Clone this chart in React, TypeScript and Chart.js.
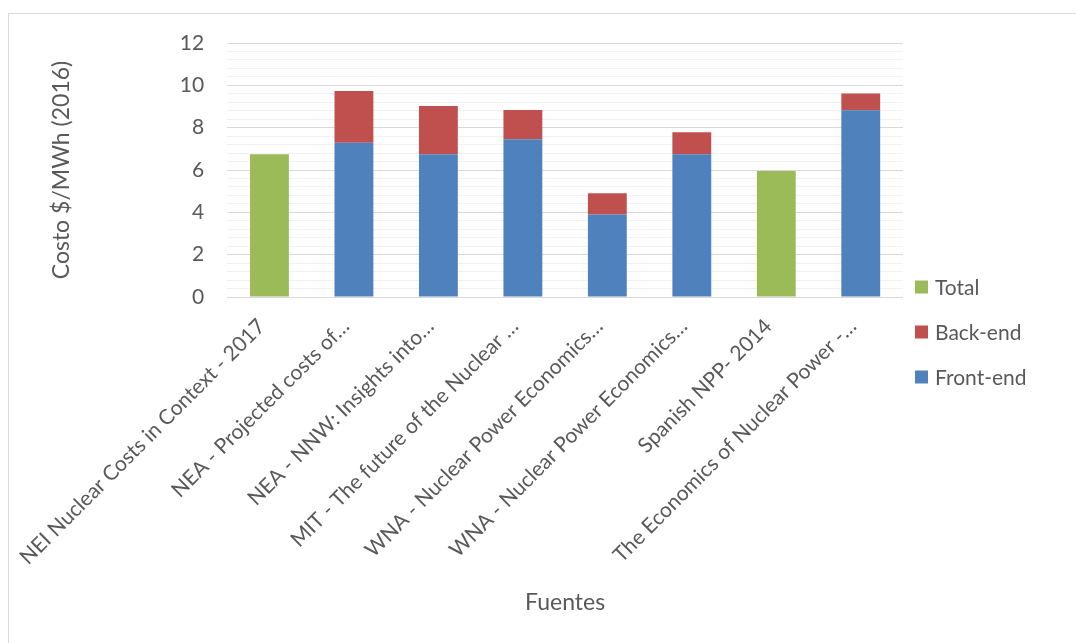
import React, { useEffect, useRef } from "react";
import { Chart, registerables } from "chart.js";

Chart.register(...registerables);

const categories = [
  "NEI Nuclear Costs in Context - 2017",
  "NEA - Projected costs of…",
  "NEA - NNW: Insights into…",
  "MIT - The future of the Nuclear …",
  "WNA - Nuclear Power Economics…",
  "WNA - Nuclear Power Economics…",
  "Spanish NPP- 2014",
  "The Economics of Nuclear Power -…",
];

const frontEnd = [null, 7.29, 6.74, 7.45, 3.9, 6.75, null, 8.82];
const backEnd = [null, 2.44, 2.28, 1.38, 1.0, 1.03, null, 0.8];
const total = [6.75, null, null, null, null, null, 5.95, null];

const yTitle = "Costo $/MWh (2016)";
const xTitle = "Fuentes";

const FONT = "Lato, 'Open Sans', sans-serif";
const TEXT = "#595959";

const legendPlugin = {
  id: "sideLegend",
  afterDraw(chart: any) {
    const { ctx, chartArea } = chart;
    const ds = chart.data.datasets.slice().reverse();
    const x = chartArea.right + 12;
    const startY = chartArea.bottom - 10;
    const step = 45;
    ctx.save();
    ctx.font = `21px ${FONT}`;
    ctx.textBaseline = "middle";
    ctx.textAlign = "left";
    ds.forEach((d: any, i: number) => {
      const cy = startY + i * step;
      ctx.fillStyle = d.backgroundColor;
      ctx.fillRect(x, cy - 6.5, 13, 13);
      ctx.fillStyle = TEXT;
      ctx.fillText(d.label, x + 20, cy + 1);
    });
    ctx.restore();
  },
};

export default function App() {
  const ref = useRef<HTMLCanvasElement | null>(null);
  useEffect(() => {
    if (!ref.current) return;
    const chart = new Chart(ref.current, {
      type: "bar",
      data: {
        labels: categories,
        datasets: [
          { label: "Front-end", data: frontEnd, backgroundColor: "#4f81bd" },
          { label: "Back-end", data: backEnd, backgroundColor: "#c0504d" },
          { label: "Total", data: total, backgroundColor: "#9bbb59" },
        ],
      },
      options: {
        animation: false,
        responsive: false,
        maintainAspectRatio: false,
        layout: { padding: { top: 29, right: 173, bottom: 0, left: 0 } },
        datasets: { bar: { barPercentage: 0.46, categoryPercentage: 1 } },
        plugins: { legend: { display: false }, tooltip: { enabled: false } },
        scales: {
          x: {
            stacked: true,
            grid: { display: false },
            border: { display: false },
            ticks: {
              autoSkip: false,
              minRotation: 45,
              maxRotation: 45,
              padding: 9,
              labelOffset: -8,
              color: TEXT,
              font: { family: FONT, size: 21 },
            },
            title: {
              display: true,
              text: xTitle,
              color: TEXT,
              font: { family: FONT, size: 23 },
              padding: { top: 0, bottom: 27 },
            },
            afterFit(scale: any) {
              scale.height = 346;
            },
          },
          y: {
            stacked: true,
            min: 0,
            max: 12,
            border: { display: false },
            grid: {
              drawTicks: true,
              tickLength: 9,
              tickColor: "rgba(0,0,0,0)",
              color: (c: any) => (c.tick && c.tick.value % 2 === 0 ? "#d9d9d9" : "#f2f2f2"),
              lineWidth: 1,
            },
            ticks: {
              stepSize: 0.4,
              autoSkip: false,
              padding: 14,
              color: TEXT,
              font: { family: FONT, size: 21 },
              callback: (v: any) => (Number(v) % 2 === 0 ? String(v) : ""),
            },
            title: {
              display: true,
              text: yTitle,
              color: TEXT,
              font: { family: FONT, size: 23 },
              padding: { top: 38, bottom: 0 },
            },
            afterFit(scale: any) {
              scale.width = 217;
            },
          },
        },
      },
      plugins: [legendPlugin],
    });
    return () => chart.destroy();
  }, []);
  return (
    <div
      style={{
        position: "fixed",
        left: 8,
        top: 13,
        width: 1068,
        height: 630,
        borderLeft: "1px solid #d9d9d9",
        borderTop: "1px solid #d9d9d9",
        background: "#fff",
      }}
    >
      <canvas ref={ref} width={1067} height={629} style={{ display: "block" }} />
    </div>
  );
}
